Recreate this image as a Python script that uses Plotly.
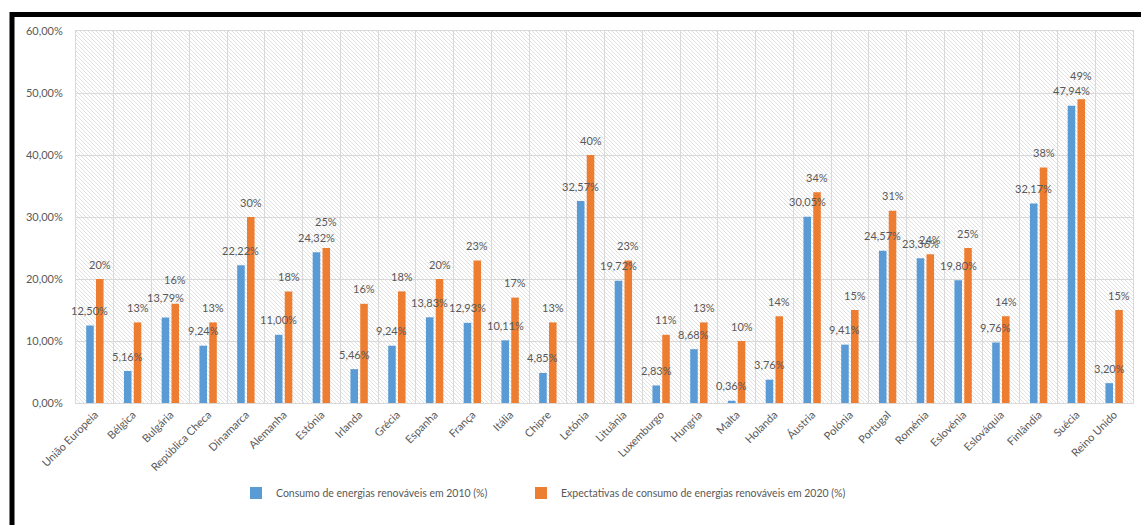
import base64
import plotly.graph_objects as go

countries = ["União Europeia", "Bélgica", "Bulgária", "República Checa", "Dinamarca",
             "Alemanha", "Estónia", "Irlanda", "Grécia", "Espanha", "França", "Itália",
             "Chipre", "Letónia", "Lituânia", "Luxemburgo", "Hungria", "Malta", "Holanda",
             "Áustria", "Polónia", "Portugal", "Roménia", "Eslovénia", "Eslováquia",
             "Finlândia", "Suécia", "Reino Unido"]
consumo_2010 = [12.50, 5.16, 13.79, 9.24, 22.22, 11.00, 24.32, 5.46, 9.24, 13.83, 12.93,
                10.11, 4.85, 32.57, 19.72, 2.83, 8.68, 0.36, 3.76, 30.05, 9.41, 24.57,
                23.36, 19.80, 9.76, 32.17, 47.94, 3.20]
expect_2020 = [20, 13, 16, 13, 30, 18, 25, 16, 18, 20, 23, 17, 13, 40, 23, 11, 13, 10, 14,
               34, 15, 31, 24, 25, 14, 38, 49, 15]
name_2010 = "Consumo de energias renováveis em 2010 (%)"
name_2020 = "Expectativas de consumo de energias renováveis em 2020 (%)"

W, H = 1141, 525
ML, MR, MT, MB = 76, 8, 31, 122
PW, PH = W - ML - MR, H - MT - MB
BARGAP, GROUPGAP = 0.48, 0.23

TXT = "#595959"
GRID = "#d9d9d9"
FONT = "Lato"

# extra upward nudges (px) of labels that were moved apart in the original
label_nudge = {("Bulgária", 0): 5, ("Bulgária", 1): 9, ("Estónia", 1): 12, ("Suécia", 1): 9}

# hatched plot-area background
s = 4
svg = (f'<svg xmlns="http://www.w3.org/2000/svg" width="{PW}" height="{PH}">'
       f'<defs><pattern id="h" width="{s}" height="{s}" patternUnits="userSpaceOnUse">'
       f'<path d="M-1,-1 L{s+1},{s+1}" stroke="#d9d9d9" stroke-width="0.8"/></pattern></defs>'
       f'<rect width="100%" height="100%" fill="url(#h)"/></svg>')
src = "data:image/svg+xml;base64," + base64.b64encode(svg.encode()).decode()

fig = go.Figure()
fig.add_trace(go.Bar(x=countries, y=consumo_2010, name=name_2010, legend="legend",
                     marker=dict(color="#5B9BD5", line_width=0)))
fig.add_trace(go.Bar(x=countries, y=expect_2020, name=name_2020, legend="legend2",
                     marker=dict(color="#ED7D31", line_width=0)))

# data labels above each bar
cat_w = PW / len(countries)
half_slot = (1 - BARGAP) * cat_w / 4
annotations = []
for si, (vals, fmt) in enumerate([(consumo_2010, "{:.2f}%"), (expect_2020, "{:.0f}%")]):
    for c, v in zip(countries, vals):
        annotations.append(dict(
            x=c, y=v, xref="x", yref="y", text=fmt.format(v).replace(".", ","),
            showarrow=False, yanchor="middle", xanchor="center",
            xshift=(-half_slot if si == 0 else half_slot),
            yshift=15 + label_nudge.get((c, si), 0),
            font=dict(size=11, color=TXT, family=FONT)))

def px_x(p):
    return (p - ML) / PW

def px_y(p):
    return (H - MB - p) / PH

leg_common = dict(orientation="h", xanchor="left", y=px_y(493), yanchor="middle",
                  font=dict(size=10.5, color=TXT, family=FONT), bgcolor="rgba(0,0,0,0)")

fig.update_layout(
    width=W, height=H,
    margin=dict(l=ML, r=MR, t=MT, b=MB, pad=0),
    paper_bgcolor="white", plot_bgcolor="rgba(0,0,0,0)",
    separators=",.",
    font=dict(family=FONT, size=11, color=TXT),
    barmode="group", bargap=BARGAP, bargroupgap=GROUPGAP,
    showlegend=True,
    legend=dict(x=px_x(236), **leg_common),
    legend2=dict(x=px_x(521), **leg_common),
    annotations=annotations,
    images=[dict(source=src, xref="paper", yref="paper", x=0, y=1, sizex=1, sizey=1,
                 sizing="stretch", xanchor="left", yanchor="top", layer="below")],
    shapes=[dict(type="rect", xref="paper", yref="paper",
                 x0=px_x(12), x1=px_x(1170), y0=px_y(560), y1=px_y(14.5),
                 line=dict(color="black", width=5), fillcolor="rgba(0,0,0,0)", layer="above")],
)
fig.update_xaxes(type="category", range=[-0.5, len(countries) - 0.5],
                 tickson="boundaries", showgrid=True, gridcolor=GRID,
                 gridwidth=1, showline=True, linecolor=GRID, mirror=True, ticks="",
                 tickangle=-45, tickfont=dict(size=11, color=TXT, family=FONT),
                 automargin=False)
fig.update_yaxes(range=[0, 60], dtick=10, tickformat=".2f", ticksuffix="%",
                 showgrid=True, gridcolor=GRID, gridwidth=1, showline=True, linecolor=GRID,
                 mirror=True, ticks="outside", ticklen=10, tickcolor="rgba(0,0,0,0)",
                 zeroline=False, tickfont=dict(size=11, color=TXT, family=FONT),
                 automargin=False)

fig.write_html("out.html", config={"displayModeBar": False},
               post_script="document.body.style.margin='0';")
